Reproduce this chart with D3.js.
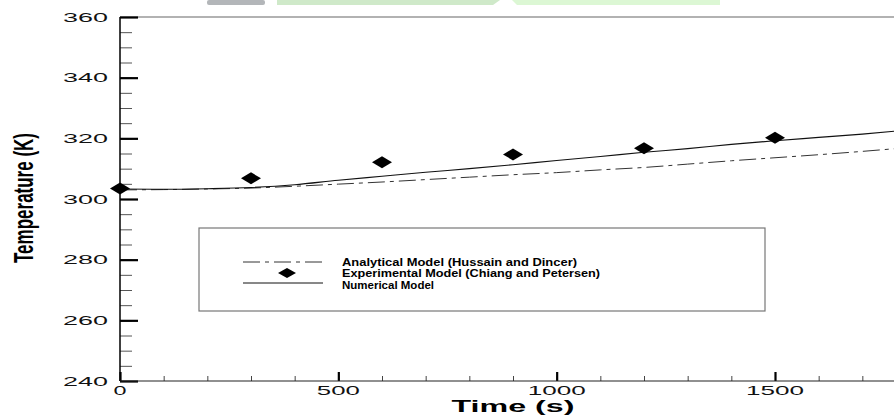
<!DOCTYPE html>
<html>
  <head>
    <meta charset="UTF-8">
    <script src="https://cdn.jsdelivr.net/npm/d3@7"></script>
    <title>Temperature vs Time</title>
    <style>
      body { margin: 0; background: #fff; }
      svg { display: block; font-family: "Liberation Sans", Arial, sans-serif; }
    </style>
  </head>
  <body>
    <svg id="chart" width="894" height="417"></svg>
  <script>
      // data
      var timeSteps = [0, 100, 200, 300, 400, 500, 600, 700, 800, 900, 1000, 1100, 1200, 1300, 1400, 1500, 1600, 1700, 1800];
      var numericalTemp = [303.3, 303.2, 303.4, 303.8, 304.7, 306.2, 307.5, 308.8, 310.0, 311.3, 312.7, 314.0, 315.4, 316.6, 318.0, 319.2, 320.3, 321.4, 322.7];
      var analyticalTemp = [303.0, 303.1, 303.3, 303.6, 304.2, 304.9, 305.6, 306.4, 307.2, 308.0, 308.7, 309.6, 310.4, 311.5, 312.6, 313.6, 314.6, 315.7, 316.9];
      var expTime = [0, 300, 600, 900, 1200, 1500];
      var expTemp = [303.5, 306.8, 312.1, 314.7, 316.7, 320.2];
      var xTicks = [0, 500, 1000, 1500];
      var yTicks = [240, 260, 280, 300, 320, 340, 360];
      var legendLabels = ["Analytical Model (Hussain and Dincer)", "Experimental Model (Chiang and Petersen)", "Numerical Model"];

      var svg = d3.select("#chart");
      var x = d3.scaleLinear().domain([0, 1800]).range([120, 906]);
      var y = d3.scaleLinear().domain([240, 360]).range([381, 17]);

      // faint banner pieces at the top edge
      svg.append("rect").attr("x", 207).attr("y", 0).attr("width", 58).attr("height", 5).attr("rx", 2).attr("fill", "#b3b6b9");
      svg.append("path").attr("d", "M277,0 L500,0 L493,5 L277,5 Z").attr("fill", "#cfe9c9");
      svg.append("path").attr("d", "M512,0 L720,0 L720,5 L517,5 Z").attr("fill", "#dcf7d4");

      // frame
      svg.append("line").attr("x1", 120).attr("x2", 894).attr("y1", 17).attr("y2", 17)
          .attr("stroke", "#999").attr("stroke-width", 1.5);

      // y axis
      var yAxis = svg.append("g").attr("transform", "translate(120,0)")
          .call(d3.axisRight(y).tickValues(d3.range(240, 361, 5)).tickSize(12).tickFormat(""));
      yAxis.select(".domain").remove();
      yAxis.selectAll(".tick line").attr("stroke", "#555").attr("stroke-width", 1);
      var yMajor = svg.append("g").attr("transform", "translate(120,0)")
          .call(d3.axisRight(y).tickValues(yTicks).tickSize(18).tickFormat(""));
      yMajor.select(".domain").remove();
      yMajor.selectAll(".tick line").attr("stroke", "#000").attr("stroke-width", 2.2);
      svg.append("line").attr("x1", 120).attr("x2", 120).attr("y1", 17).attr("y2", 381)
          .attr("stroke", "#000").attr("stroke-width", 1.5);

      svg.selectAll(".ylab").data(yTicks).enter().append("text")
          .attr("class", "ylab")
          .attr("x", 108).attr("y", function(d){ return y(d) + 4.7; })
          .attr("text-anchor", "end")
          .attr("font-size", 13)
          .attr("textLength", 45).attr("lengthAdjust", "spacingAndGlyphs")
          .attr("fill", "#111")
          .text(function(d){ return d; });

      // x axis
      var xAxis = svg.append("g").attr("transform", "translate(0,381)")
          .call(d3.axisTop(x).tickValues(d3.range(0, 1801, 100)).tickSize(5).tickFormat(""));
      xAxis.select(".domain").remove();
      xAxis.selectAll(".tick line").attr("stroke", "#444").attr("stroke-width", 1);
      var xMajor = svg.append("g").attr("transform", "translate(0,381)")
          .call(d3.axisTop(x).tickValues(xTicks).tickSize(9).tickFormat(""));
      xMajor.select(".domain").remove();
      xMajor.selectAll(".tick line").attr("stroke", "#000").attr("stroke-width", 2.2);
      svg.append("line").attr("x1", 120).attr("x2", 894).attr("y1", 381).attr("y2", 381)
          .attr("stroke", "#222").attr("stroke-width", 1.2);

      svg.selectAll(".xlab").data(xTicks).enter().append("text")
          .attr("class", "xlab")
          .attr("x", function(d){ return x(d); }).attr("y", 395)
          .attr("text-anchor", "middle")
          .attr("font-size", 13.5)
          .attr("textLength", function(d){ return String(d).length * 15 - 2; })
          .attr("lengthAdjust", "spacingAndGlyphs")
          .attr("fill", "#111")
          .text(function(d){ return d; });

      // axis titles
      svg.append("text")
          .attr("x", 513).attr("y", 412)
          .attr("text-anchor", "middle")
          .attr("font-size", 17).attr("font-weight", "bold")
          .attr("textLength", 123).attr("lengthAdjust", "spacingAndGlyphs")
          .text("Time (s)");
      svg.append("text")
          .attr("transform", "translate(33,198) scale(1.95,1) rotate(-90)")
          .attr("text-anchor", "middle")
          .attr("font-size", 14).attr("font-weight", "bold")
          .attr("textLength", 130).attr("lengthAdjust", "spacingAndGlyphs")
          .text("Temperature (K)");

      // curves
      var lineGen = d3.line()
          .x(function(d){ return x(d[0]); })
          .y(function(d){ return y(d[1]); })
          .curve(d3.curveMonotoneX);

      svg.append("path")
          .datum(d3.zip(timeSteps, analyticalTemp))
          .attr("d", lineGen)
          .attr("fill", "none").attr("stroke", "#333").attr("stroke-width", 1)
          .attr("stroke-dasharray", "17,5,4,5");
      svg.append("path")
          .datum(d3.zip(timeSteps, numericalTemp))
          .attr("d", lineGen)
          .attr("fill", "none").attr("stroke", "#111").attr("stroke-width", 1.1);

      function diamond(cx, cy, w, h){
          return "M" + (cx - w) + "," + cy + " L" + cx + "," + (cy - h) + " L" + (cx + w) + "," + cy + " L" + cx + "," + (cy + h) + " Z";
      }
      svg.selectAll(".exp").data(d3.zip(expTime, expTemp)).enter().append("path")
          .attr("class", "exp")
          .attr("d", function(d){ return diamond(x(d[0]), y(d[1]), 10, 6); })
          .attr("fill", "#000");

      // legend
      var leg = svg.append("g");
      leg.append("rect").attr("x", 199).attr("y", 228).attr("width", 566).attr("height", 83)
          .attr("fill", "#fff").attr("stroke", "#777").attr("stroke-width", 1.2);
      leg.append("line").attr("x1", 243).attr("x2", 323).attr("y1", 262).attr("y2", 262)
          .attr("stroke", "#333").attr("stroke-width", 1).attr("stroke-dasharray", "17,5,4,5");
      leg.append("path").attr("d", diamond(287, 273, 9, 5)).attr("fill", "#000");
      leg.append("line").attr("x1", 243).attr("x2", 323).attr("y1", 283).attr("y2", 283)
          .attr("stroke", "#111").attr("stroke-width", 1);
      var legWidths = [235, 258, 92];
      leg.selectAll(".legtext").data(legendLabels).enter().append("text")
          .attr("class", "legtext")
          .attr("x", 342).attr("y", function(d, i){ return 265.5 + i * 11.5; })
          .attr("font-size", 11).attr("font-weight", "bold")
          .attr("textLength", function(d, i){ return legWidths[i]; })
          .attr("lengthAdjust", "spacingAndGlyphs")
          .text(function(d){ return d; });
  </script>
  </body>
</html>
